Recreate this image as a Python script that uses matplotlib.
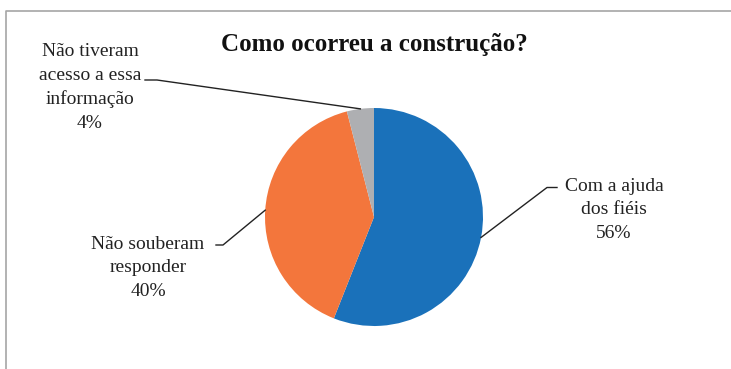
import numpy as np
import matplotlib
matplotlib.use("Agg")
import matplotlib.pyplot as plt
from matplotlib.lines import Line2D

title = "Como ocorreu a construção?"
categories = ["Com a ajuda\ndos fiéis", "Não souberam\nresponder", "Não tiveram\nacesso a essa\ninformação"]
values = [56, 40, 4]
colors = ["#1A71BA", "#F3763C", "#AEAFB2"]

W, H = 731, 369
fig = plt.figure(figsize=(W / 100, H / 100), dpi=100)
fig.patch.set_facecolor("white")

# pie geometry in pixels (top-left origin)
cx, cy, r = 374, 217, 109
ax = fig.add_axes([(cx - r) / W, (H - cy - r) / H, 2 * r / W, 2 * r / H])
wedges, _ = ax.pie(values, colors=colors, startangle=90, counterclock=False,
                   radius=1, wedgeprops=dict(linewidth=0))
ax.set_xlim(-1, 1)
ax.set_ylim(-1, 1)
ax.set_aspect("equal")
ax.axis("off")

# overlay in pixel coordinates
ov = fig.add_axes([0, 0, 1, 1], zorder=5)
ov.set_xlim(0, W)
ov.set_ylim(H, 0)
ov.axis("off")
ov.patch.set_alpha(0)

# frame (left + top)
ov.add_line(Line2D([5.5, 5.5, W], [H, 10.5, 10.5], color="#A6A6A6", lw=1.2))

ov.text(374.5, 45, title, ha="center", va="center", fontsize=18,
        fontweight="bold", family="Liberation Serif", color="#111111")

# label positions (centers) and leader line knee points
label_pos = [(614, 210), (148, 268), (90, 87.5)]
knees = [[(557, 187.5), (547, 187.5)],
         [(216, 245), (223, 245)],
         [(145, 80), (157, 80)]]

total = sum(values)
cum = 0
for cat, v, (tx, ty), knee in zip(categories, values, label_pos, knees):
    mid = 90 - (cum + v / 2) / total * 360
    cum += v
    ex = cx + r * np.cos(np.radians(mid))
    ey = cy - r * np.sin(np.radians(mid))
    pct = f"{round(v / total * 100)}%"
    ov.text(tx, ty, f"{cat}\n{pct}", ha="center", va="center", multialignment="center",
            fontsize=14, family="Liberation Serif", color="#222222", linespacing=1.49)
    xs = [k[0] for k in knee] + [ex]
    ys = [k[1] for k in knee] + [ey]
    ov.add_line(Line2D(xs, ys, color="#222222", lw=1.0))

fig.savefig("out.png", dpi=100, facecolor="white")
